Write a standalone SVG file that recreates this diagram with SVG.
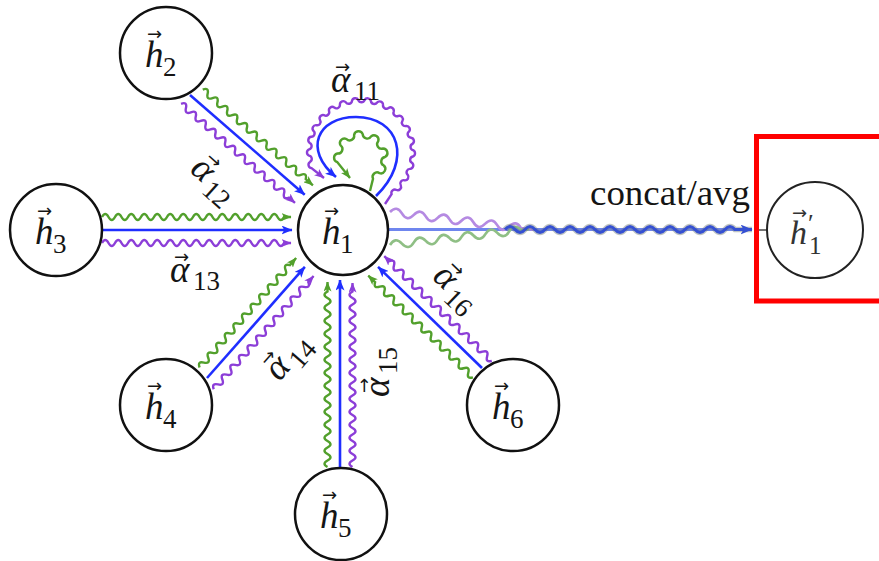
<svg xmlns="http://www.w3.org/2000/svg" width="879" height="561" viewBox="0 0 879 561">
<style>
.nd{fill:#fff;stroke:#111;stroke-width:2.5}
.t{font-family:"Liberation Serif","DejaVu Serif",serif;font-style:italic;font-size:37px;fill:#151515}
.s{font-style:normal;font-size:27px}
.v{font-family:"DejaVu Sans",sans-serif;font-style:normal;font-size:18px}
.b{stroke:#1f2eff;stroke-width:2.6;fill:none;marker-end:url(#ab)}
.g{stroke:#52a02c;stroke-width:2.4;fill:none;marker-end:url(#ag)}
.p{stroke:#8c3ed8;stroke-width:2.4;fill:none;marker-end:url(#ap)}
</style>
<defs>
<marker id="ab" viewBox="0 0 11 9" refX="10.5" refY="4.5" markerWidth="11" markerHeight="9" markerUnits="userSpaceOnUse" orient="auto"><path d="M0,0L11,4.5L0,9L2.8,4.5Z" fill="#1f2eff"/></marker>
<marker id="ag" viewBox="0 0 10 8" refX="9.5" refY="4" markerWidth="10" markerHeight="8" markerUnits="userSpaceOnUse" orient="auto"><path d="M0,0L10,4L0,8L2.5,4Z" fill="#52a02c"/></marker>
<marker id="ap" viewBox="0 0 10 8" refX="9.5" refY="4" markerWidth="10" markerHeight="8" markerUnits="userSpaceOnUse" orient="auto"><path d="M0,0L10,4L0,8L2.5,4Z" fill="#8c3ed8"/></marker>
<marker id="ao" viewBox="0 0 12 10" refX="11.5" refY="5" markerWidth="12" markerHeight="10" markerUnits="userSpaceOnUse" orient="auto"><path d="M0,0L12,5L0,10L3,5Z" fill="#3550d2"/></marker>
</defs>
<rect width="879" height="561" fill="#fff"/>
<g id="connectors">
<g id="e-h2" transform="translate(190,95) rotate(41)">
<path class="b" d="M0,0H152"/>
<path class="g" d="M6,-12.5q3.25,-6 6.5,0t6.5,0 t6.5,0 t6.5,0 t6.5,0 t6.5,0 t6.5,0 t6.5,0 t6.5,0 t6.5,0 t6.5,0 t6.5,0 t6.5,0 t6.5,0 t6.5,0 t6.5,0 t6.5,0 t6.5,0 t6.5,0 t6.5,0 t6.5,0H152"/>
<path class="p" d="M-1,12.5q3.25,-6 6.5,0t6.5,0 t6.5,0 t6.5,0 t6.5,0 t6.5,0 t6.5,0 t6.5,0 t6.5,0 t6.5,0 t6.5,0 t6.5,0 t6.5,0 t6.5,0 t6.5,0 t6.5,0 t6.5,0 t6.5,0 t6.5,0 t6.5,0 t6.5,0 t6.5,0H150"/>
</g>
<g id="e-h3" transform="translate(102,230)">
<path class="b" d="M0,0H190"/>
<path class="g" d="M0,-13q3.25,-6 6.5,0t6.5,0 t6.5,0 t6.5,0 t6.5,0 t6.5,0 t6.5,0 t6.5,0 t6.5,0 t6.5,0 t6.5,0 t6.5,0 t6.5,0 t6.5,0 t6.5,0 t6.5,0 t6.5,0 t6.5,0 t6.5,0 t6.5,0 t6.5,0 t6.5,0 t6.5,0 t6.5,0 t6.5,0 t6.5,0 t6.5,0 t6.5,0H189"/>
<path class="p" d="M0,13q3.25,-6 6.5,0t6.5,0 t6.5,0 t6.5,0 t6.5,0 t6.5,0 t6.5,0 t6.5,0 t6.5,0 t6.5,0 t6.5,0 t6.5,0 t6.5,0 t6.5,0 t6.5,0 t6.5,0 t6.5,0 t6.5,0 t6.5,0 t6.5,0 t6.5,0 t6.5,0 t6.5,0 t6.5,0 t6.5,0 t6.5,0 t6.5,0 t6.5,0H189"/>
</g>
<g id="e-h4" transform="translate(207,378) rotate(-48.6)">
<path class="b" d="M0,0H148"/>
<path class="g" d="M3,-12.5q3.25,-6 6.5,0t6.5,0 t6.5,0 t6.5,0 t6.5,0 t6.5,0 t6.5,0 t6.5,0 t6.5,0 t6.5,0 t6.5,0 t6.5,0 t6.5,0 t6.5,0 t6.5,0 t6.5,0 t6.5,0 t6.5,0 t6.5,0 t6.5,0 t6.5,0H149"/>
<path class="p" d="M-4,12.5q3.25,-6 6.5,0t6.5,0 t6.5,0 t6.5,0 t6.5,0 t6.5,0 t6.5,0 t6.5,0 t6.5,0 t6.5,0 t6.5,0 t6.5,0 t6.5,0 t6.5,0 t6.5,0 t6.5,0 t6.5,0 t6.5,0 t6.5,0 t6.5,0 t6.5,0 t6.5,0H147"/>
</g>
<g id="e-h5" transform="translate(340,467) rotate(-90)">
<path class="b" d="M0,0H187"/>
<path class="g" d="M0,-12.5q3.25,-6 6.5,0t6.5,0 t6.5,0 t6.5,0 t6.5,0 t6.5,0 t6.5,0 t6.5,0 t6.5,0 t6.5,0 t6.5,0 t6.5,0 t6.5,0 t6.5,0 t6.5,0 t6.5,0 t6.5,0 t6.5,0 t6.5,0 t6.5,0 t6.5,0 t6.5,0 t6.5,0 t6.5,0 t6.5,0 t6.5,0 t6.5,0H185"/>
<path class="p" d="M0,12.5q3.25,-6 6.5,0t6.5,0 t6.5,0 t6.5,0 t6.5,0 t6.5,0 t6.5,0 t6.5,0 t6.5,0 t6.5,0 t6.5,0 t6.5,0 t6.5,0 t6.5,0 t6.5,0 t6.5,0 t6.5,0 t6.5,0 t6.5,0 t6.5,0 t6.5,0 t6.5,0 t6.5,0 t6.5,0 t6.5,0 t6.5,0 t6.5,0H184"/>
</g>
<g id="e-h6" transform="translate(482,368) rotate(-135.8)">
<path class="b" d="M0,0H145"/>
<path class="g" d="M0,-13q3.25,-6 6.5,0t6.5,0 t6.5,0 t6.5,0 t6.5,0 t6.5,0 t6.5,0 t6.5,0 t6.5,0 t6.5,0 t6.5,0 t6.5,0 t6.5,0 t6.5,0 t6.5,0 t6.5,0 t6.5,0 t6.5,0 t6.5,0 t6.5,0 t6.5,0H146"/>
<path class="p" d="M-2,12q3.25,-6 6.5,0t6.5,0 t6.5,0 t6.5,0 t6.5,0 t6.5,0 t6.5,0 t6.5,0 t6.5,0 t6.5,0 t6.5,0 t6.5,0 t6.5,0 t6.5,0 t6.5,0 t6.5,0 t6.5,0 t6.5,0 t6.5,0 t6.5,0 t6.5,0 t6.5,0H148"/>
</g>
<g id="e-h1-self">
<path class="p" d="M385,204L391.6,194.1A3.4,3.4 0 0 1 396.5,190A3.4,3.4 0 0 0 400.8,185.4A3.4,3.4 0 0 1 404.6,180.3A3.4,3.4 0 0 0 407.7,174.8A3.4,3.4 0 0 1 410.2,168.9A3.4,3.4 0 0 0 411.9,162.8A3.4,3.4 0 0 1 412.8,156.5A3.4,3.4 0 0 0 413,150.2A3.4,3.4 0 0 1 412.4,143.9A3.4,3.4 0 0 0 411,137.7A3.4,3.4 0 0 1 408.9,131.7A3.4,3.4 0 0 0 406,126A3.4,3.4 0 0 1 402.5,120.7A3.4,3.4 0 0 0 398.4,115.9A3.4,3.4 0 0 1 393.7,111.6A3.4,3.4 0 0 0 388.6,107.9A3.4,3.4 0 0 1 383,104.9A3.4,3.4 0 0 0 377.1,102.5A3.4,3.4 0 0 1 370.9,101A3.4,3.4 0 0 0 364.6,100.1A3.4,3.4 0 0 1 358.3,100.1A3.4,3.4 0 0 0 352,100.8A3.4,3.4 0 0 1 345.8,102.3A3.4,3.4 0 0 0 339.9,104.5A3.4,3.4 0 0 1 334.2,107.4A3.4,3.4 0 0 0 329,111A3.4,3.4 0 0 1 324.2,115.2A3.4,3.4 0 0 0 320,120A3.4,3.4 0 0 1 316.4,125.2A3.4,3.4 0 0 0 313.5,130.9A3.4,3.4 0 0 1 311.3,136.8A3.4,3.4 0 0 0 309.8,143A3.4,3.4 0 0 1 309.1,149.3A3.4,3.4 0 0 0 309.1,155.6A3.4,3.4 0 0 1 310,161.9A3.4,3.4 0 0 0 311.5,168.1L324,178"/>
<path class="b" d="M376,196C413,160 399,117 356,117C317,117 303,150 336,177"/>
<path class="g" d="M370,191L373,178.8A4.5,4.5 0 0 1 379.6,173.2A4.5,4.5 0 0 0 383.8,165.5A4.5,4.5 0 0 1 385,157A4.5,4.5 0 0 0 383,148.5A4.5,4.5 0 0 1 378.2,141.3A4.5,4.5 0 0 0 371.1,136.3A4.5,4.5 0 0 1 362.7,134.1A4.5,4.5 0 0 0 354.1,135A4.5,4.5 0 0 1 346.4,139A4.5,4.5 0 0 0 340.6,145.4A4.5,4.5 0 0 1 337.4,153.5A4.5,4.5 0 0 0 337.4,162.2L350,178"/>
</g>
<g id="e-out">
<path d="M388,229.5H745" stroke="#6f86ee" stroke-width="3" fill="none"/>
<path transform="translate(390,212) rotate(7)" d="M0,0q6,-8 12,0t12,0 t12,0 t12,0 t12,0 t12,0 t12,0 t12,0 t12,0 t12,0 t12,0H145" stroke="#b58ae2" stroke-width="2.6" fill="none"/>
<path transform="translate(390,245) rotate(-6.5)" d="M0,0q6,-8 12,0t12,0 t12,0 t12,0 t12,0 t12,0 t12,0 t12,0 t12,0 t12,0 t12,0H140" stroke="#8fbf85" stroke-width="2.6" fill="none"/>
<path d="M505,229.5q5,-6 10,0t10,0 t10,0 t10,0 t10,0 t10,0 t10,0 t10,0 t10,0 t10,0 t10,0 t10,0 t10,0 t10,0 t10,0 t10,0 t10,0 t10,0 t10,0 t10,0 t10,0 t10,0 t10,0H752" stroke="#707c78" stroke-width="5.5" opacity="0.45" fill="none"/>
<path d="M505,229.5q5,-6 10,0t10,0 t10,0 t10,0 t10,0 t10,0 t10,0 t10,0 t10,0 t10,0 t10,0 t10,0 t10,0 t10,0 t10,0 t10,0 t10,0 t10,0 t10,0 t10,0 t10,0 t10,0 t10,0H752" stroke="#3550d2" stroke-width="3" fill="none" marker-end="url(#ao)"/>
<path d="M759,230H767" stroke="#444" stroke-width="1.5"/>
</g>
</g>
<g id="edge-labels">
<g transform="translate(355,84)"><text class="t"><tspan class="v" x="-20" y="-11">→</tspan><tspan x="-24" y="8">α</tspan><tspan class="s" x="-1" y="16">11</tspan></text></g>
<g transform="translate(212,181) rotate(42)"><text class="t"><tspan class="v" x="-20" y="-11">→</tspan><tspan x="-24" y="8">α</tspan><tspan class="s" x="-1" y="16">12</tspan></text></g>
<g transform="translate(194,274)"><text class="t"><tspan class="v" x="-20" y="-11">→</tspan><tspan x="-24" y="8">α</tspan><tspan class="s" x="-1" y="16">13</tspan></text></g>
<g transform="translate(289,359) rotate(-49)"><text class="t"><tspan class="v" x="-20" y="-11">→</tspan><tspan x="-24" y="8">α</tspan><tspan class="s" x="-1" y="16">14</tspan></text></g>
<g transform="translate(381,373) rotate(-90)"><text class="t"><tspan class="v" x="-20" y="-11">→</tspan><tspan x="-24" y="8">α</tspan><tspan class="s" x="-1" y="16">15</tspan></text></g>
<g transform="translate(454,289) rotate(44)"><text class="t"><tspan class="v" x="-20" y="-11">→</tspan><tspan x="-24" y="8">α</tspan><tspan class="s" x="-1" y="16">16</tspan></text></g>
<text x="590" y="205" font-family="Liberation Serif, DejaVu Serif, serif" font-size="36" fill="#151515" textLength="160" lengthAdjust="spacingAndGlyphs">concat/avg</text>
</g>
<g id="node-h1"><circle class="nd" cx="343" cy="230" r="45"/><text class="t"><tspan class="v" x="324" y="217">→</tspan><tspan x="322" y="244">h</tspan><tspan class="s" x="340" y="253">1</tspan></text></g>
<g id="node-h2"><circle class="nd" cx="166" cy="53" r="46"/><text class="t"><tspan class="v" x="147" y="40">→</tspan><tspan x="145" y="67">h</tspan><tspan class="s" x="163" y="76">2</tspan></text></g>
<g id="node-h3"><circle class="nd" cx="56" cy="230" r="46"/><text class="t"><tspan class="v" x="37" y="217">→</tspan><tspan x="35" y="244">h</tspan><tspan class="s" x="53" y="253">3</tspan></text></g>
<g id="node-h4"><circle class="nd" cx="166" cy="405" r="46"/><text class="t"><tspan class="v" x="147" y="392">→</tspan><tspan x="145" y="419">h</tspan><tspan class="s" x="163" y="428">4</tspan></text></g>
<g id="node-h5"><circle class="nd" cx="341" cy="514" r="46"/><text class="t"><tspan class="v" x="322" y="501">→</tspan><tspan x="320" y="528">h</tspan><tspan class="s" x="338" y="537">5</tspan></text></g>
<g id="node-h6"><circle class="nd" cx="513" cy="405" r="46"/><text class="t"><tspan class="v" x="494" y="392">→</tspan><tspan x="492" y="419">h</tspan><tspan class="s" x="510" y="428">6</tspan></text></g>
<g id="node-h1p"><circle cx="815" cy="230" r="48" fill="#fff" stroke="#222" stroke-width="2"/><text class="t" style="font-size:34px;fill:#333"><tspan class="v" x="792" y="219">→</tspan><tspan x="790" y="244">h</tspan><tspan class="s" x="808" y="232" style="font-size:26px">′</tspan><tspan class="s" x="809" y="254" style="font-size:25px">1</tspan></text></g>
<g id="highlight"><rect x="756.5" y="136.5" width="140" height="164.5" fill="none" stroke="#ff0000" stroke-width="5"/></g>
</svg>
